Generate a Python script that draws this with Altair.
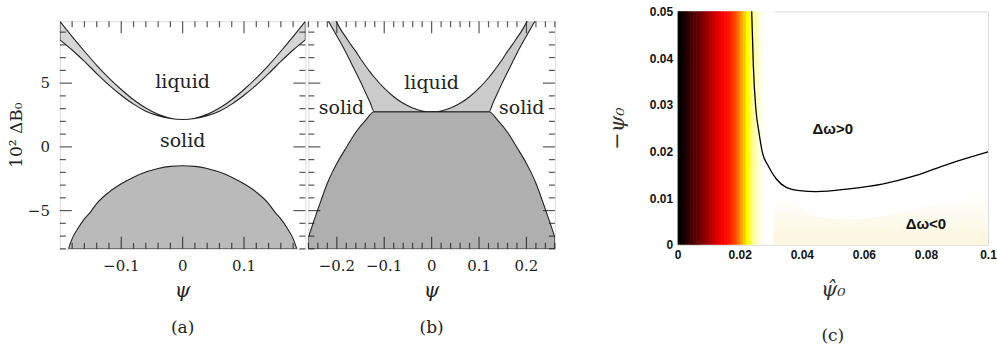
import altair as alt
import pandas as pd

# ---------------- panel (a) data ----------------
psi_a = [-0.20, -0.18, -0.16, -0.14, -0.12, -0.10, -0.08, -0.06, -0.04, -0.02, 0.0,
         0.02, 0.04, 0.06, 0.08, 0.10, 0.12, 0.14, 0.16, 0.18, 0.20]
band_lo_a = [8.4, 7.6, 6.7, 5.75, 4.85, 4.05, 3.35, 2.8, 2.45, 2.22, 2.15,
             2.22, 2.45, 2.8, 3.35, 4.05, 4.85, 5.75, 6.7, 7.6, 8.4]
band_hi_a = [9.85, 8.65, 7.5, 6.4, 5.4, 4.5, 3.7, 3.05, 2.55, 2.25, 2.15,
             2.25, 2.55, 3.05, 3.7, 4.5, 5.4, 6.4, 7.5, 8.65, 9.85]
psi_dome_a = [-0.186, -0.18, -0.17, -0.16, -0.15, -0.14, -0.12, -0.10, -0.08, -0.06, -0.04, -0.02, 0.0,
              0.02, 0.04, 0.06, 0.08, 0.10, 0.12, 0.14, 0.15, 0.16, 0.17, 0.18, 0.186]
dome_a = [-8.0, -7.2, -6.35, -5.65, -5.1, -4.45, -3.55, -2.9, -2.38, -1.98, -1.7, -1.53, -1.48,
          -1.53, -1.7, -1.98, -2.38, -2.9, -3.55, -4.45, -5.1, -5.65, -6.35, -7.2, -8.0]
labels_a = ["liquid", "solid"]
lab_psi_a = [0.0, 0.0]
lab_v_a = [5.1, 0.45]

# ---------------- panel (b) data ----------------
psi_band_b = [-0.22, -0.21, -0.20, -0.19, -0.18, -0.17, -0.16, -0.15, -0.14, -0.13, -0.121,
              -0.10, -0.08, -0.06, -0.04, -0.02, 0.0, 0.02, 0.04, 0.06, 0.08, 0.10,
              0.121, 0.13, 0.14, 0.15, 0.16, 0.17, 0.18, 0.19, 0.20, 0.21, 0.22]
band_lo_b = [10.0, 9.35, 8.7, 8.05, 7.35, 6.6, 5.85, 5.1, 4.3, 3.5, 2.75,
             2.75, 2.75, 2.75, 2.75, 2.75, 2.75, 2.75, 2.75, 2.75, 2.75, 2.75,
             2.75, 3.5, 4.3, 5.1, 5.85, 6.6, 7.35, 8.05, 8.7, 9.35, 10.0]
band_hi_b = [11.1, 10.4, 9.75, 9.1, 8.55, 8.0, 7.49, 6.91, 6.38, 5.88, 5.46,
             4.6, 3.93, 3.42, 3.05, 2.82, 2.75, 2.82, 3.05, 3.42, 3.93, 4.6,
             5.46, 5.88, 6.38, 6.91, 7.49, 8.0, 8.55, 9.1, 9.75, 10.4, 11.1]
psi_dome_b = [-0.26, -0.25, -0.24, -0.23, -0.22, -0.21, -0.20, -0.18, -0.16, -0.14, -0.121,
              0.121, 0.14, 0.16, 0.18, 0.20, 0.21, 0.22, 0.23, 0.24, 0.25, 0.26]
dome_b = [-7.1, -5.98, -4.9, -3.85, -2.85, -2.02, -1.3, -0.05, 1.15, 2.05, 2.75,
          2.75, 2.05, 1.15, -0.05, -1.3, -2.02, -2.85, -3.85, -4.9, -5.98, -7.1]
labels_b = ["liquid", "solid", "solid"]
lab_psi_b = [0.0, -0.19, 0.19]
lab_v_b = [5.0, 3.05, 3.05]

# ---------------- panel (c) data ----------------
heat_x = [0.000, 0.001, 0.002, 0.003, 0.004, 0.005, 0.006, 0.007, 0.008, 0.009, 0.010,
          0.011, 0.012, 0.013, 0.014, 0.015, 0.016, 0.017, 0.018, 0.019, 0.020,
          0.021, 0.022, 0.023, 0.024, 0.025, 0.026, 0.027, 0.028, 0.029, 0.030]
heat_level = [0.00, 0.02, 0.045, 0.07, 0.095, 0.12, 0.145, 0.17, 0.20, 0.23, 0.26,
              0.29, 0.32, 0.345, 0.37, 0.39, 0.41, 0.44, 0.48, 0.54, 0.61,
              0.68, 0.75, 0.83, 0.90, 0.94, 0.97, 0.99, 1.00, 1.00, 1.00]
cream_x = [0.031, 0.035, 0.040, 0.045, 0.055, 0.065, 0.075, 0.085, 0.100]
cream_top = [0.011, 0.0095, 0.008, 0.006, 0.0055, 0.006, 0.0075, 0.009, 0.0105]
contour_x = [0.02386, 0.02439, 0.0252, 0.0262, 0.0273, 0.0292, 0.0318, 0.035, 0.0393,
             0.0446, 0.0553, 0.0659, 0.0766, 0.0872, 0.100]
contour_y = [0.050, 0.0383, 0.0291, 0.0241, 0.0198, 0.0169, 0.0141, 0.0123, 0.0116,
             0.0114, 0.0120, 0.0130, 0.0148, 0.0173, 0.0199]
labels_c = ["Δω>0", "Δω<0"]
lab_x_c = [0.050, 0.080]
lab_y_c = [0.0248, 0.0045]

# tick values and tick labels
xt_major_a = [-0.1, 0.0, 0.1]
xt_label_a = ["−0.1", "0", "0.1"]
xt_minor_a = [-0.18, -0.16, -0.14, -0.12, -0.08, -0.06, -0.04, -0.02,
              0.02, 0.04, 0.06, 0.08, 0.12, 0.14, 0.16, 0.18]
xt_major_b = [-0.2, -0.1, 0.0, 0.1, 0.2]
xt_label_b = ["−0.2", "−0.1", "0", "0.1", "0.2"]
xt_minor_b = [-0.26, -0.24, -0.22, -0.18, -0.16, -0.14, -0.12, -0.08, -0.06, -0.04, -0.02,
              0.02, 0.04, 0.06, 0.08, 0.12, 0.14, 0.16, 0.18, 0.22, 0.24, 0.26]
yt_major = [-5, 0, 5]
yt_label = ["−5", "0", "5"]
yt_minor = [-8, -7, -6, -4, -3, -2, -1, 1, 2, 3, 4, 6, 7, 8, 9]
xc_ticks = [0, 0.02, 0.04, 0.06, 0.08, 0.1]
yc_ticks = [0, 0.01, 0.02, 0.03, 0.04, 0.05]

SERIF = "DejaVu Serif"
SANS = "Liberation Sans"
INK = "#222222"
Y_DOM = [-8.0, 9.85]

W_A, W_B, H_AB = 246, 247, 228
W_C, H_C = 311, 234


def xenc(dom):
    return alt.X("psi:Q", scale=alt.Scale(domain=dom, nice=False, zero=False), axis=None)


def yenc():
    return alt.Y("v:Q", scale=alt.Scale(domain=Y_DOM, nice=False, zero=False), axis=None)


def frame_ticks(dom, xmaj, xmin, W, H):
    out = []
    for vals, L in ((xmaj, 12), (xmin, 6)):
        d = pd.DataFrame({"psi": vals})
        t = alt.Chart(d).mark_tick(color="#111111", thickness=1.2, size=L, orient="vertical")
        out.append(t.encode(x=xenc(dom), y=alt.value(L / 2)))
        out.append(t.encode(x=xenc(dom), y=alt.value(H - L / 2)))
    for vals, L in ((yt_major, 12), (yt_minor, 6)):
        d = pd.DataFrame({"v": vals})
        t = alt.Chart(d).mark_tick(color="#111111", thickness=1.2, size=L, orient="horizontal")
        out.append(t.encode(y=yenc(), x=alt.value(L / 2)))
        out.append(t.encode(y=yenc(), x=alt.value(W - L / 2)))
    return out


def frame_text(dom, xvals, xlabels, show_y, W, H, panel):
    out = []
    d = pd.DataFrame({"psi": xvals, "t": xlabels})
    out.append(alt.Chart(d).mark_text(font=SERIF, fontSize=15, color=INK, baseline="middle")
               .encode(x=xenc(dom), y=alt.value(H + 17), text="t:N"))
    if show_y:
        d = pd.DataFrame({"v": yt_major, "t": yt_label})
        out.append(alt.Chart(d).mark_text(font=SERIF, fontSize=15, color=INK,
                                          baseline="middle", align="right")
                   .encode(y=yenc(), x=alt.value(-10), text="t:N"))
        d = pd.DataFrame({"t": ["10² ΔB₀"]})
        out.append(alt.Chart(d).mark_text(font=SERIF, fontSize=17, color=INK, angle=270,
                                          baseline="middle")
                   .encode(x=alt.value(-43), y=alt.value(H / 2), text="t:N"))
    d = pd.DataFrame({"t": ["ψ"]})
    out.append(alt.Chart(d).mark_text(font=SERIF, fontSize=20, fontStyle="italic", color=INK,
                                      baseline="middle")
               .encode(x=alt.value(W / 2), y=alt.value(H + 42), text="t:N"))
    d = pd.DataFrame({"t": [panel]})
    out.append(alt.Chart(d).mark_text(font=SERIF, fontSize=17, color=INK, baseline="middle")
               .encode(x=alt.value(W / 2), y=alt.value(H + 79), text="t:N"))
    return out


# ---------------- panel (a) ----------------
dom_a = [-0.2, 0.2]
band_a = pd.DataFrame({"psi": psi_a, "lo": band_lo_a, "v": band_hi_a})
dome_a_df = pd.DataFrame({"psi": psi_dome_a, "v": dome_a, "base": [Y_DOM[0]] * len(dome_a)})
text_a = pd.DataFrame({"psi": lab_psi_a, "v": lab_v_a, "t": labels_a})

layer_a = [
    alt.Chart(band_a).mark_area(fill="#d6d6d6", stroke=INK, strokeWidth=1.1, clip=True,
                                interpolate="monotone")
       .encode(x=xenc(dom_a), y=yenc(), y2="lo:Q"),
    alt.Chart(dome_a_df).mark_area(fill="#bababa", stroke=INK, strokeWidth=1.1, clip=True,
                                   interpolate="monotone")
       .encode(x=xenc(dom_a), y=yenc(), y2="base:Q"),
    alt.Chart(text_a).mark_text(font=SERIF, fontSize=19, color=INK, baseline="middle")
       .encode(x=xenc(dom_a), y=yenc(), text="t:N"),
] + frame_text(dom_a, xt_major_a, xt_label_a, True, W_A, H_AB, "(a)") \
  + frame_ticks(dom_a, xt_major_a, xt_minor_a, W_A, H_AB)

chart_a = alt.layer(*layer_a).properties(width=W_A, height=H_AB)

# ---------------- panel (b) ----------------
dom_b = [-0.26, 0.26]
band_b = pd.DataFrame({"psi": psi_band_b, "lo": band_lo_b, "v": band_hi_b})
dome_b_df = pd.DataFrame({"psi": psi_dome_b, "v": dome_b, "base": [Y_DOM[0]] * len(dome_b)})
text_b = pd.DataFrame({"psi": lab_psi_b, "v": lab_v_b, "t": labels_b})

layer_b = [
    alt.Chart(dome_b_df).mark_area(fill="#afafaf", stroke=INK, strokeWidth=1.1, clip=True,
                                   interpolate="monotone")
       .encode(x=xenc(dom_b), y=yenc(), y2="base:Q"),
    alt.Chart(band_b).mark_area(fill="#cbcbcb", stroke=INK, strokeWidth=1.1, clip=True,
                                interpolate="monotone")
       .encode(x=xenc(dom_b), y=yenc(), y2="lo:Q"),
    alt.Chart(text_b).mark_text(font=SERIF, fontSize=19, color=INK, baseline="middle")
       .encode(x=xenc(dom_b), y=yenc(), text="t:N"),
] + frame_text(dom_b, xt_major_b, xt_label_b, False, W_B, H_AB, "(b)") \
  + frame_ticks(dom_b, xt_major_b, xt_minor_b, W_B, H_AB)

chart_b = alt.layer(*layer_b).properties(width=W_B, height=H_AB)

# ---------------- panel (c) ----------------
xsc = alt.Scale(domain=[0, 0.1], nice=False, zero=False)
ysc = alt.Scale(domain=[0, 0.05], nice=False, zero=False)


def xax_c():
    return alt.Axis(values=xc_ticks, format=".2~f", title="ψ̂₀", ticks=False, domain=False,
                    grid=False, labelFont=SANS, labelFontWeight="bold", labelFontSize=12,
                    labelColor="#111", labelPadding=5, labelFlush=False, labelOverlap=False,
                    titleFont=SERIF, titleFontStyle="italic", titleFontWeight="normal",
                    titleFontSize=21, titleColor="#333", titlePadding=18)


def yax_c():
    return alt.Axis(values=yc_ticks, format=".2~f", title="−ψ₀", ticks=False, domain=False,
                    grid=False, labelFont=SANS, labelFontWeight="bold", labelFontSize=12,
                    labelColor="#111", labelPadding=5, labelFlush=False, labelOverlap=False,
                    titleFont=SERIF, titleFontStyle="italic", titleFontWeight="normal",
                    titleFontSize=21, titleColor="#333", titlePadding=22)


def Xc():
    return alt.X("x:Q", scale=xsc, axis=xax_c())


def Yc():
    return alt.Y("y:Q", scale=ysc, axis=yax_c())


heat_df = pd.DataFrame({"x": heat_x, "lev": heat_level})
heat_df["x1"] = heat_df["x"] + 0.0012
cream_df = pd.DataFrame({"x": cream_x, "y": cream_top, "y0": [0.0] * len(cream_x)})
cont_df = pd.DataFrame({"x": contour_x, "y": contour_y})
text_c = pd.DataFrame({"x": lab_x_c, "y": lab_y_c, "t": labels_c})

heat = alt.Chart(heat_df).mark_rect().encode(
    x=Xc(), x2="x1:Q", y=alt.value(0), y2=alt.value(H_C),
    color=alt.Color("lev:Q", legend=None,
                    scale=alt.Scale(domain=[0, 0.375, 0.75, 1.0], interpolate="rgb",
                                    range=["#000000", "#ff0000", "#ffff00", "#ffffff"])))
cream = alt.Chart(cream_df).mark_area(
    interpolate="monotone",
    color=alt.Gradient(gradient="linear",
                       stops=[alt.GradientStop(color="#fbf6dc", offset=0),
                              alt.GradientStop(color="#ffffff", offset=1)],
                       x1=0, x2=0, y1=1, y2=0)).encode(x=Xc(), y=Yc(), y2="y0:Q")
contour = alt.Chart(cont_df).mark_line(color="black", strokeWidth=1.3,
                                       interpolate="monotone").encode(x=Xc(), y=Yc())
txt_c = alt.Chart(text_c).mark_text(font=SANS, fontWeight="bold", fontSize=15,
                                    color="#111").encode(x=Xc(), y=Yc(), text="t:N")

chart_c = alt.layer(heat, cream, contour, txt_c).properties(
    width=W_C, height=H_C,
    title=alt.TitleParams("(c)", orient="bottom", font=SERIF, fontSize=17,
                          fontWeight="normal", color=INK, offset=28))

# ---------------- layout ----------------
spacer = alt.Chart(pd.DataFrame({"s": [0]})).mark_point(opacity=0, size=1).encode(
    x=alt.X("s:Q", axis=None), y=alt.Y("s:Q", axis=None)
).properties(width=10, height=1, view=alt.ViewBackground(strokeOpacity=0))

left = alt.vconcat(spacer, alt.hconcat(chart_a, chart_b, spacing=0), spacing=8)

chart = alt.hconcat(left, chart_c, spacing=49).properties(
    padding={"left": 7, "top": 4, "right": 0, "bottom": 0}
).configure_view(stroke="#222222", strokeWidth=1).configure(background="white")

chart.save("out.html", embed_options={"renderer": "svg", "actions": False})
